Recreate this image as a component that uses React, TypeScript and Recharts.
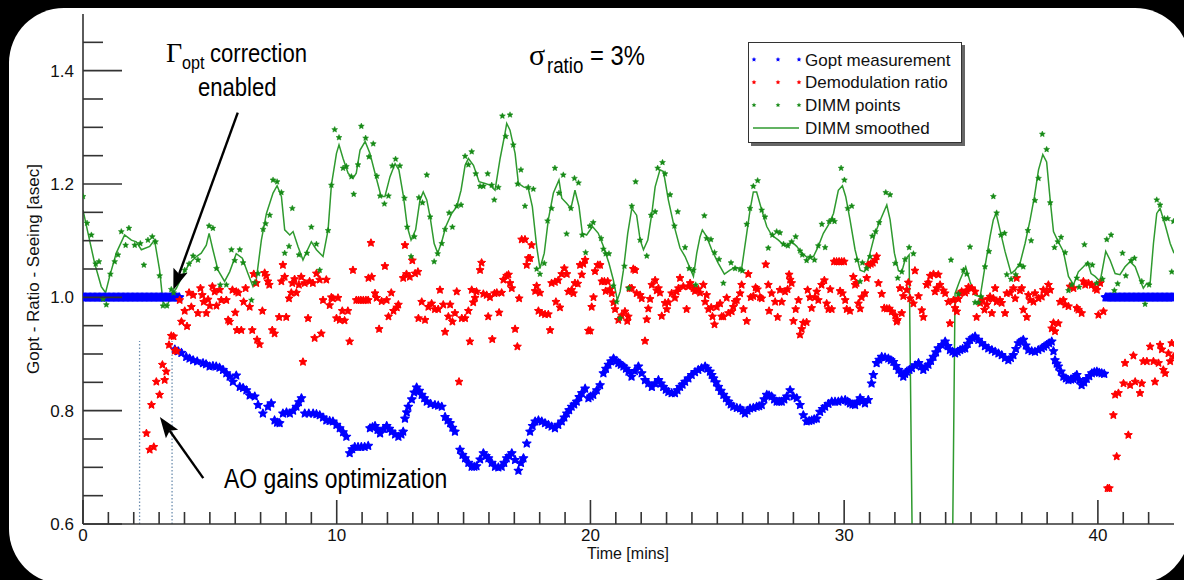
import React from 'react';
import { ComposedChart, Scatter, Line, XAxis, YAxis, ReferenceLine, Legend } from 'recharts';

// ---------- data (time in minutes, value) ----------
// Gopt held at 1.0 before the correction is enabled
const goptHoldStart: [number, number][] = [
  [0, 1], [0.05, 1], [0.1, 1], [0.15, 1], [0.2, 1], [0.25, 1], [0.3, 1], [0.35, 1], [0.4, 1], [0.45, 1],
  [0.5, 1], [0.55, 1], [0.6, 1], [0.65, 1], [0.7, 1], [0.75, 1], [0.8, 1], [0.85, 1], [0.9, 1], [0.95, 1],
  [1.0, 1], [1.05, 1], [1.1, 1], [1.15, 1], [1.2, 1], [1.25, 1], [1.3, 1], [1.35, 1], [1.4, 1], [1.45, 1],
  [1.5, 1], [1.55, 1], [1.6, 1], [1.65, 1], [1.7, 1], [1.75, 1], [1.8, 1], [1.85, 1], [1.9, 1], [1.95, 1],
  [2.0, 1], [2.05, 1], [2.1, 1], [2.15, 1], [2.2, 1], [2.25, 1], [2.3, 1], [2.35, 1], [2.4, 1], [2.45, 1],
  [2.5, 1], [2.55, 1], [2.6, 1], [2.65, 1], [2.7, 1], [2.75, 1], [2.8, 1], [2.85, 1], [2.9, 1], [2.95, 1],
  [3.0, 1], [3.05, 1], [3.1, 1], [3.15, 1], [3.2, 1], [3.25, 1], [3.3, 1], [3.35, 1], [3.4, 1], [3.45, 1],
  [3.5, 1], [3.55, 1], [3.6, 1], [3.65, 1], [3.7, 1], [3.75, 1], [3.8, 1],
];

const goptMeasured: [number, number][] = [
  [3.62, 0.908], [3.75, 0.905], [3.88, 0.902], [4.07, 0.895], [4.2, 0.892], [4.34, 0.889], [4.5, 0.887],
  [4.73, 0.884], [4.85, 0.882], [4.99, 0.878], [5.12, 0.879], [5.25, 0.878], [5.38, 0.876], [5.52, 0.872],
  [5.65, 0.866], [5.78, 0.86], [5.91, 0.851], [6.04, 0.862], [6.18, 0.842], [6.31, 0.84], [6.44, 0.836],
  [6.57, 0.827], [6.77, 0.825], [6.9, 0.81], [7.09, 0.795], [7.29, 0.807], [7.42, 0.813], [7.55, 0.783],
  [7.65, 0.779], [7.75, 0.778], [7.88, 0.795], [8.02, 0.797], [8.15, 0.795], [8.28, 0.8], [8.41, 0.807],
  [8.51, 0.815], [8.61, 0.822], [8.74, 0.795], [8.9, 0.795], [9.07, 0.795], [9.2, 0.794], [9.33, 0.792],
  [9.46, 0.788], [9.59, 0.783], [9.72, 0.782], [9.85, 0.781], [9.99, 0.775], [10.12, 0.769], [10.25, 0.762],
  [10.38, 0.754], [10.51, 0.725], [10.61, 0.732], [10.71, 0.736], [10.84, 0.736], [10.97, 0.736], [11.1, 0.736],
  [11.24, 0.738], [11.31, 0.769], [11.41, 0.771], [11.51, 0.773], [11.61, 0.766], [11.71, 0.76], [11.84, 0.768],
  [11.97, 0.773], [12.07, 0.768], [12.17, 0.763], [12.3, 0.758], [12.43, 0.754], [12.55, 0.758], [12.62, 0.763],
  [12.69, 0.786], [12.76, 0.797], [12.82, 0.807], [12.96, 0.82], [13.05, 0.832], [13.15, 0.841], [13.25, 0.835],
  [13.35, 0.828], [13.45, 0.822], [13.55, 0.816], [13.7, 0.812], [13.87, 0.81], [14.0, 0.809], [14.14, 0.807],
  [14.27, 0.789], [14.37, 0.783], [14.47, 0.778], [14.56, 0.77], [14.66, 0.763], [14.86, 0.731], [14.96, 0.722],
  [15.06, 0.716], [15.19, 0.708], [15.32, 0.701], [15.42, 0.701], [15.51, 0.702], [15.65, 0.714], [15.78, 0.725],
  [15.88, 0.72], [15.98, 0.716], [16.11, 0.708], [16.24, 0.701], [16.37, 0.7], [16.5, 0.701], [16.6, 0.708],
  [16.7, 0.716], [16.8, 0.72], [16.9, 0.725], [17.03, 0.713], [17.16, 0.694], [17.26, 0.708], [17.36, 0.716],
  [17.49, 0.742], [17.62, 0.763], [17.72, 0.773], [17.82, 0.781], [17.95, 0.783], [18.08, 0.781], [18.21, 0.778],
  [18.34, 0.775], [18.47, 0.772], [18.6, 0.769], [18.73, 0.775], [18.87, 0.781], [18.97, 0.788], [19.07, 0.795],
  [19.16, 0.801], [19.26, 0.807], [19.36, 0.811], [19.46, 0.816], [19.56, 0.824], [19.66, 0.831], [19.79, 0.839],
  [19.92, 0.822], [20.01, 0.825], [20.11, 0.828], [20.25, 0.836], [20.38, 0.845], [20.51, 0.866], [20.61, 0.874],
  [20.71, 0.881], [20.81, 0.887], [20.91, 0.892], [21.01, 0.888], [21.1, 0.884], [21.2, 0.881], [21.3, 0.878],
  [21.4, 0.874], [21.5, 0.869], [21.62, 0.86], [21.75, 0.87], [21.89, 0.878], [22.02, 0.866], [22.15, 0.854],
  [22.28, 0.848], [22.42, 0.842], [22.55, 0.848], [22.68, 0.854], [22.78, 0.848], [22.87, 0.842], [22.97, 0.837],
  [23.07, 0.833], [23.2, 0.831], [23.33, 0.831], [23.43, 0.836], [23.53, 0.842], [23.63, 0.846], [23.73, 0.851],
  [23.86, 0.857], [23.99, 0.863], [24.12, 0.868], [24.25, 0.872], [24.38, 0.875], [24.52, 0.878], [24.61, 0.874],
  [24.71, 0.869], [24.78, 0.863], [24.85, 0.857], [24.95, 0.85], [25.04, 0.842], [25.14, 0.835], [25.24, 0.828],
  [25.34, 0.822], [25.44, 0.816], [25.53, 0.811], [25.63, 0.807], [25.77, 0.805], [25.9, 0.804], [26.0, 0.8],
  [26.09, 0.795], [26.19, 0.8], [26.29, 0.804], [26.42, 0.805], [26.55, 0.807], [26.65, 0.808], [26.75, 0.81],
  [26.85, 0.82], [26.95, 0.828], [27.04, 0.827], [27.14, 0.825], [27.24, 0.82], [27.34, 0.816], [27.44, 0.816],
  [27.54, 0.816], [27.64, 0.82], [27.74, 0.825], [27.87, 0.836], [28.0, 0.825], [28.13, 0.822], [28.26, 0.81],
  [28.39, 0.792], [28.52, 0.781], [28.62, 0.782], [28.72, 0.783], [28.82, 0.785], [28.92, 0.786], [29.05, 0.798],
  [29.15, 0.803], [29.25, 0.807], [29.38, 0.812], [29.51, 0.816], [29.64, 0.816], [29.77, 0.816], [29.9, 0.818],
  [30.04, 0.819], [30.14, 0.816], [30.23, 0.813], [30.33, 0.811], [30.43, 0.81], [30.53, 0.816], [30.63, 0.822],
  [30.72, 0.817], [30.82, 0.813], [30.95, 0.819], [31.08, 0.848], [31.15, 0.863], [31.28, 0.884], [31.38, 0.89],
  [31.48, 0.895], [31.61, 0.894], [31.74, 0.892], [31.84, 0.889], [31.94, 0.886], [32.04, 0.879], [32.14, 0.872],
  [32.24, 0.866], [32.33, 0.86], [32.4, 0.865], [32.47, 0.869], [32.57, 0.872], [32.67, 0.875], [32.8, 0.88],
  [32.93, 0.884], [33.03, 0.878], [33.12, 0.872], [33.22, 0.877], [33.32, 0.881], [33.42, 0.888], [33.52, 0.895],
  [33.62, 0.903], [33.71, 0.91], [33.85, 0.916], [33.98, 0.922], [34.08, 0.914], [34.17, 0.907], [34.27, 0.904],
  [34.37, 0.901], [34.47, 0.904], [34.57, 0.907], [34.67, 0.909], [34.77, 0.91], [34.87, 0.918], [34.96, 0.925],
  [35.06, 0.928], [35.16, 0.931], [35.29, 0.925], [35.42, 0.919], [35.55, 0.914], [35.68, 0.91], [35.82, 0.907],
  [35.95, 0.904], [36.08, 0.901], [36.21, 0.898], [36.34, 0.893], [36.47, 0.889], [36.57, 0.893], [36.67, 0.898],
  [36.77, 0.909], [36.87, 0.919], [36.97, 0.922], [37.06, 0.925], [37.16, 0.915], [37.26, 0.907], [37.39, 0.905],
  [37.52, 0.904], [37.65, 0.907], [37.79, 0.91], [37.88, 0.913], [37.98, 0.916], [38.08, 0.919], [38.18, 0.922],
  [38.25, 0.905], [38.31, 0.889], [38.38, 0.883], [38.44, 0.878], [38.54, 0.869], [38.64, 0.86], [38.74, 0.857],
  [38.84, 0.854], [38.94, 0.855], [39.03, 0.856], [39.1, 0.86], [39.17, 0.863], [39.27, 0.854], [39.36, 0.845],
  [39.46, 0.85], [39.56, 0.856], [39.66, 0.861], [39.76, 0.866], [39.86, 0.868], [39.96, 0.869], [40.05, 0.867],
  [40.15, 0.866], [40.25, 0.865],
];

// Gopt reset to 1.0 at the end of the run
const goptHoldEnd: [number, number][] = [
  [40.3, 1], [40.35, 1], [40.4, 1], [40.45, 1], [40.5, 1], [40.55, 1], [40.6, 1], [40.65, 1], [40.7, 1], [40.75, 1],
  [40.8, 1], [40.85, 1], [40.9, 1], [40.95, 1], [41.0, 1], [41.05, 1], [41.1, 1], [41.15, 1], [41.2, 1], [41.25, 1],
  [41.3, 1], [41.35, 1], [41.4, 1], [41.45, 1], [41.5, 1], [41.55, 1], [41.6, 1], [41.65, 1], [41.7, 1], [41.75, 1],
  [41.8, 1], [41.85, 1], [41.9, 1], [41.95, 1], [42.0, 1], [42.05, 1], [42.1, 1], [42.15, 1], [42.2, 1], [42.25, 1],
  [42.3, 1], [42.35, 1], [42.4, 1], [42.45, 1], [42.5, 1], [42.55, 1], [42.6, 1], [42.65, 1], [42.7, 1], [42.75, 1],
  [42.8, 1], [42.85, 1], [42.9, 1], [42.95, 1], [43.0, 1],
];

const demodRatio: [number, number][] = [
  [2.5, 0.76], [2.63, 0.731], [2.79, 0.736], [2.7, 0.81], [2.89, 0.851], [3.02, 0.828], [3.13, 0.881], [3.22, 0.854],
  [3.28, 0.869], [3.39, 0.916], [3.48, 0.932], [3.57, 0.931], [3.62, 0.906], [3.7, 0.905],
  [3.81, 0.995], [3.88, 0.957], [4.01, 0.976], [4.1, 0.949], [4.18, 1.008], [4.27, 0.983], [4.34, 1.004], [4.53, 0.972],
  [4.63, 1.016], [4.7, 1.004], [4.76, 0.992], [4.86, 0.972], [4.93, 0.996], [5.0, 0.985], [5.1, 1.019], [5.19, 1.01],
  [5.26, 0.985], [5.39, 1.013], [5.45, 0.995], [5.65, 0.995], [5.72, 0.96], [5.78, 0.957], [5.89, 1.013], [6.0, 0.973],
  [6.04, 1.01], [6.07, 0.942], [6.12, 1.008], [6.24, 0.942], [6.33, 0.992], [6.41, 1.016], [6.57, 0.983], [6.67, 0.942],
  [6.73, 1.041], [6.83, 1.025], [6.86, 0.925], [6.96, 0.917], [7.07, 0.976], [7.16, 1.043], [7.22, 1.038], [7.29, 1.028],
  [7.34, 1.022], [7.46, 0.942], [7.55, 0.936], [7.73, 0.965], [7.82, 1.028], [7.88, 1.057], [7.95, 1.036], [8.01, 0.965],
  [8.12, 0.998], [8.21, 1.008], [8.25, 1.025], [8.34, 1.032], [8.41, 1.008], [8.51, 1.022], [8.6, 1.036], [8.67, 0.886],
  [8.74, 1.025], [8.87, 0.963], [8.93, 1.028], [9.06, 1.025], [9.13, 0.928], [9.2, 1.042], [9.33, 1.031], [9.39, 0.936],
  [9.46, 0.995], [9.59, 1.031], [9.72, 0.986], [9.79, 1.0], [9.85, 0.998], [9.99, 0.963], [10.05, 0.999], [10.12, 0.96],
  [10.22, 0.976], [10.31, 0.959], [10.44, 0.976], [10.51, 0.922], [10.64, 1.048], [10.77, 0.995], [10.86, 0.995],
  [10.95, 0.995], [11.05, 0.995], [11.15, 0.995], [11.24, 0.995], [11.25, 1.034], [11.35, 1.096], [11.38, 1.036],
  [11.51, 1.007], [11.57, 0.999], [11.67, 0.944], [11.77, 0.993], [11.9, 1.055], [11.97, 0.995], [12.04, 0.966],
  [12.15, 1.008], [12.24, 0.976], [12.37, 0.982], [12.43, 0.987], [12.62, 1.034], [12.69, 1.092], [12.75, 1.041],
  [12.88, 1.036], [12.98, 1.065], [13.09, 1.042], [13.2, 1.045], [13.22, 0.963], [13.35, 0.992], [13.48, 0.96],
  [13.61, 0.983], [13.74, 0.989], [13.87, 0.979], [14.0, 0.979], [14.07, 1.013], [14.2, 0.987], [14.27, 0.939],
  [14.4, 0.966], [14.47, 0.987], [14.56, 0.957], [14.66, 0.972], [14.73, 1.01], [14.82, 0.851], [14.93, 0.963],
  [15.06, 0.963], [15.19, 0.976], [15.25, 0.922], [15.32, 1.013], [15.38, 0.991], [15.45, 0.999], [15.51, 1.01],
  [15.65, 1.048], [15.71, 1.061], [15.78, 1.006], [15.91, 1.004], [15.97, 0.966], [16.04, 1.0], [16.13, 0.926],
  [16.22, 1.007], [16.31, 1.008], [16.4, 0.973], [16.5, 1.008], [16.57, 1.031], [16.7, 1.038], [16.77, 1.04],
  [16.83, 1.025], [16.9, 1.016], [17.03, 0.944], [17.12, 0.913], [17.19, 0.998], [17.29, 1.102], [17.42, 1.102],
  [17.49, 1.057], [17.55, 1.069], [17.62, 1.069], [17.68, 1.092], [17.82, 1.011], [17.88, 1.02], [17.95, 0.976],
  [18.01, 1.008], [18.08, 0.972], [18.21, 0.97], [18.34, 0.97], [18.41, 0.942], [18.47, 1.025], [18.6, 1.027],
  [18.64, 0.992], [18.73, 1.03], [18.8, 0.982], [18.87, 1.041], [18.97, 1.051], [19.07, 1.041], [19.13, 1.01],
  [19.26, 1.013], [19.33, 1.007], [19.39, 1.025], [19.5, 1.024], [19.59, 1.057], [19.66, 1.04], [19.72, 1.059],
  [19.79, 1.066], [19.92, 0.941], [19.99, 0.941], [20.05, 0.983], [20.12, 1.0], [20.18, 1.046], [20.29, 1.057],
  [20.38, 1.057], [20.45, 1.028], [20.55, 1.028], [20.6, 1.011], [20.68, 1.028], [20.77, 1.014], [20.84, 1.007],
  [20.91, 0.991], [20.97, 0.979], [21.1, 0.96], [21.23, 0.968], [21.36, 0.975], [21.45, 0.958], [21.49, 0.966],
  [21.55, 1.016], [21.63, 1.016], [21.69, 1.05], [21.76, 1.048], [21.82, 1.007], [21.96, 1.004], [22.02, 0.998],
  [22.15, 0.923], [22.22, 0.961], [22.28, 0.98], [22.35, 0.997], [22.42, 1.022], [22.55, 1.03], [22.61, 1.012],
  [22.68, 1.016], [22.74, 1.008], [22.81, 0.967], [22.94, 0.99], [23.01, 0.979], [23.07, 0.991], [23.2, 1.007],
  [23.33, 0.999], [23.4, 1.01], [23.47, 1.016], [23.53, 1.034], [23.66, 1.019], [23.79, 0.979], [23.86, 1.019],
  [23.93, 1.025], [24.06, 1.016], [24.12, 1.011], [24.25, 1.014], [24.32, 1.008], [24.45, 1.022], [24.52, 0.992],
  [24.58, 1.004], [24.65, 0.979], [24.76, 0.982], [24.81, 0.966], [24.89, 0.952], [24.98, 0.983], [25.11, 0.989],
  [25.17, 0.966], [25.24, 0.966], [25.37, 0.999], [25.44, 0.972], [25.57, 0.975], [25.63, 0.983], [25.7, 0.992],
  [25.77, 0.995], [25.9, 1.007], [25.96, 1.022], [26.03, 0.979], [26.16, 0.958], [26.22, 1.041], [26.32, 1.0],
  [26.42, 1.002], [26.51, 1.017], [26.58, 1.014], [26.68, 1.0], [26.75, 0.998], [26.91, 1.058], [27.01, 1.022],
  [27.04, 0.976], [27.14, 1.007], [27.28, 0.992], [27.38, 0.965], [27.47, 1.013], [27.54, 0.992], [27.67, 1.01],
  [27.77, 1.014], [27.83, 1.04], [27.87, 1.031], [27.93, 1.025], [28.0, 0.958], [28.09, 0.979], [28.2, 0.995],
  [28.26, 0.934], [28.33, 0.944], [28.39, 0.955], [28.52, 0.956], [28.56, 1.013], [28.65, 1.0], [28.72, 0.981],
  [28.85, 1.0], [28.92, 1.01], [28.98, 0.995], [29.11, 1.022], [29.22, 1.03], [29.31, 0.989], [29.38, 0.979],
  [29.45, 1.014], [29.51, 0.979], [29.6, 1.063], [29.7, 1.063], [29.8, 1.063], [29.9, 1.063], [30.0, 1.063],
  [29.84, 1.011], [29.93, 1.007], [30.04, 0.995], [30.1, 0.979], [30.23, 0.976], [30.36, 1.036], [30.43, 1.022],
  [30.49, 1.025], [30.56, 0.989], [30.63, 0.98], [30.69, 1.0], [30.82, 1.007], [30.89, 1.034], [30.95, 1.057],
  [31.05, 1.059], [31.13, 1.061], [31.22, 1.066], [31.28, 1.072], [31.35, 1.025], [31.48, 1.006], [31.58, 0.981],
  [31.68, 0.98], [31.78, 0.98], [31.88, 0.975], [32.01, 0.968], [32.07, 0.957], [32.1, 0.96], [32.2, 1.016],
  [32.27, 0.972], [32.33, 1.002], [32.47, 1.013], [32.53, 1.026], [32.6, 0.998], [32.73, 0.989], [32.79, 1.047],
  [32.93, 1.002], [33.06, 0.977], [33.12, 0.965], [33.25, 1.022], [33.32, 1.026], [33.39, 1.038], [33.52, 1.041],
  [33.58, 1.01], [33.65, 1.016], [33.71, 1.04], [33.78, 1.022], [33.91, 1.012], [33.98, 1.007], [34.11, 0.992],
  [34.17, 0.954], [34.31, 0.995], [34.37, 0.981], [34.44, 0.975], [34.5, 0.997], [34.57, 1.007], [34.63, 1.01],
  [34.77, 1.008], [34.83, 1.012], [34.9, 1.018], [35.03, 1.016], [35.16, 1.01], [35.22, 0.965], [35.36, 0.99],
  [35.45, 0.995], [35.53, 0.978], [35.62, 0.987], [35.69, 0.997], [35.75, 1.001], [35.82, 0.972], [35.88, 0.998],
  [35.95, 1.016], [36.01, 0.992], [36.14, 0.995], [36.21, 0.99], [36.34, 0.972], [36.41, 1.007], [36.54, 1.008],
  [36.67, 1.016], [36.74, 0.998], [36.8, 1.034], [36.93, 1.012], [37.0, 1.016], [37.06, 0.978], [37.2, 0.965],
  [37.26, 1.004], [37.33, 0.995], [37.46, 0.992], [37.52, 1.007], [37.66, 0.998], [37.79, 1.001], [37.85, 1.013],
  [37.98, 1.008], [38.05, 1.022], [38.12, 1.013], [38.18, 0.945], [38.25, 0.955], [38.31, 0.94], [38.44, 0.954],
  [38.51, 0.992], [38.64, 0.995], [38.71, 0.987], [38.84, 0.984], [38.9, 1.019], [39.04, 1.016], [39.17, 0.981],
  [39.23, 0.978], [39.36, 0.972], [39.43, 1.028], [39.5, 1.022], [39.63, 1.025], [39.76, 1.022], [39.89, 1.016],
  [39.96, 1.013], [40.02, 0.969], [40.09, 1.025], [40.22, 0.975],
  [40.38, 0.663], [40.45, 0.663], [40.61, 0.792], [40.68, 0.828], [40.74, 0.719], [40.81, 0.831], [41.01, 0.848],
  [41.07, 0.884], [41.2, 0.757], [41.27, 0.845], [41.4, 0.897], [41.47, 0.851], [41.66, 0.831], [41.73, 0.848],
  [41.79, 0.887], [41.93, 0.887], [42.06, 0.913], [42.19, 0.887], [42.25, 0.851], [42.39, 0.884], [42.45, 0.916],
  [42.52, 0.908], [42.58, 0.872], [42.65, 0.866], [42.78, 0.901], [42.85, 0.887], [42.91, 0.919], [42.98, 0.895],
];

const dimmPoints: [number, number][] = [
  [0, 1.178], [0.16, 1.131], [0.33, 1.11], [0.5, 1.059], [0.63, 1.063], [0.79, 0.997], [0.92, 0.987], [1.08, 1.041],
  [1.25, 1.063], [1.38, 1.075], [1.51, 1.116], [1.68, 1.092], [1.81, 1.122], [2.04, 1.092], [2.26, 1.095], [2.4, 1.057],
  [2.56, 1.101], [2.73, 1.107], [2.86, 1.098], [3.02, 1.038], [3.15, 0.985], [3.31, 0.985], [3.48, 1.014], [3.57, 1.008],
  [4.01, 1.048], [4.18, 1.059], [4.34, 1.073], [4.53, 1.066], [4.97, 1.126], [5.12, 1.122], [5.26, 1.051], [5.41, 1.022],
  [5.65, 1.022], [5.85, 1.084], [5.98, 1.065], [6.18, 1.084], [6.31, 1.061], [6.64, 0.995], [6.77, 1.026], [6.9, 1.042],
  [7.1, 1.12], [7.2, 1.13], [7.36, 1.145], [7.49, 1.207], [7.65, 1.204], [7.82, 1.185], [7.95, 1.078], [8.12, 1.09],
  [8.25, 1.157], [8.51, 1.075], [8.83, 1.078], [9.0, 1.124], [9.2, 1.094], [9.33, 1.048], [9.66, 1.118], [9.79, 1.198],
  [9.92, 1.296], [10.09, 1.282], [10.25, 1.228], [10.38, 1.231], [10.58, 1.213], [10.67, 1.182], [10.84, 1.234],
  [10.97, 1.302], [11.14, 1.281], [11.27, 1.248], [11.44, 1.271], [11.58, 1.214], [11.71, 1.179], [11.88, 1.165],
  [12.04, 1.179], [12.19, 1.232], [12.32, 1.244], [12.49, 1.232], [12.67, 1.175], [12.78, 1.124], [12.93, 1.072],
  [13.06, 1.107], [13.24, 1.176], [13.38, 1.167], [13.55, 1.216], [13.68, 1.142], [13.84, 1.063], [13.98, 1.077],
  [14.14, 1.095], [14.27, 1.12], [14.43, 1.149], [14.56, 1.124], [14.73, 1.161], [14.9, 1.163], [15.06, 1.249],
  [15.19, 1.234], [15.32, 1.257], [15.48, 1.218], [15.65, 1.196], [15.78, 1.196], [15.95, 1.218], [16.11, 1.198],
  [16.21, 1.172], [16.37, 1.194], [16.53, 1.32], [16.66, 1.284], [16.83, 1.322], [16.96, 1.269], [17.13, 1.2],
  [17.26, 1.225], [17.42, 1.161], [17.55, 1.194], [17.75, 1.191], [17.88, 1.05], [18.01, 1.041], [18.18, 1.06],
  [18.31, 1.135], [18.47, 1.157], [18.6, 1.228], [18.76, 1.184], [18.93, 1.216], [19.06, 1.112], [19.23, 1.157],
  [19.37, 1.21], [19.53, 1.202], [19.68, 1.11], [19.81, 1.079], [19.98, 1.126], [20.11, 1.132], [20.42, 1.104],
  [20.51, 1.085], [20.6, 1.077], [20.73, 1.077], [20.9, 1.02], [21.03, 0.992], [21.17, 0.963], [21.34, 1.055],
  [21.5, 1.016], [21.63, 1.161], [21.78, 1.204], [21.96, 1.101], [22.22, 1.073], [22.39, 1.145], [22.55, 1.151],
  [22.65, 1.228], [22.84, 1.238], [22.94, 1.218], [23.14, 1.181], [23.31, 1.126], [23.44, 1.151], [23.73, 1.088],
  [23.89, 1.051], [24.06, 1.048], [24.15, 1.022], [24.49, 1.144], [24.58, 1.104], [24.75, 1.102], [24.89, 1.079],
  [25.07, 1.067], [25.24, 1.025], [25.54, 1.061], [25.7, 1.051], [25.9, 1.049], [25.99, 1.047], [26.16, 1.129],
  [26.29, 1.157], [26.42, 1.196], [26.59, 1.206], [26.75, 1.154], [26.88, 1.142], [27.01, 1.087], [27.17, 1.11],
  [27.34, 1.116], [27.47, 1.114], [27.61, 1.094], [27.78, 1.091], [27.93, 1.098], [28.09, 1.107], [28.26, 1.082],
  [28.35, 1.075], [28.52, 1.065], [28.66, 1.071], [28.83, 1.066], [28.98, 1.091], [29.12, 1.129], [29.25, 1.088],
  [29.41, 1.134], [29.54, 1.137], [29.62, 1.134], [29.88, 1.228], [30.01, 1.207], [30.14, 1.157], [30.3, 1.161],
  [30.5, 1.066], [30.63, 1.028], [30.72, 1.061], [30.89, 1.051], [31.02, 1.072], [31.11, 1.108], [31.24, 1.116],
  [31.38, 1.132], [31.64, 1.185], [31.81, 1.181], [32.01, 1.06], [32.11, 1.034], [32.27, 1.045], [32.4, 1.067],
  [32.56, 1.088], [32.73, 1.077], [34.21, 1.066], [34.5, 1.006], [34.7, 1.048], [34.83, 1.041], [34.96, 1.089],
  [35.16, 0.991], [35.29, 0.991], [35.4, 1.001], [35.55, 1.054], [35.71, 1.081], [35.88, 1.178], [36.01, 1.149],
  [36.18, 1.11], [36.32, 1.113], [36.41, 1.04], [36.58, 1.032], [36.76, 1.04], [36.93, 1.057], [37.06, 1.054],
  [37.24, 1.118], [37.37, 1.1], [37.52, 1.171], [37.66, 1.21], [37.81, 1.288], [37.98, 1.261], [38.12, 1.167],
  [38.29, 1.088], [38.42, 1.098], [38.55, 1.106], [38.71, 1.079], [38.84, 1.012], [38.97, 1.022], [39.17, 1.034],
  [39.26, 1.018], [39.47, 1.093], [39.6, 1.059], [39.78, 1.057], [39.95, 1.025], [40.18, 1.032], [40.35, 1.102],
  [40.52, 1.11], [40.65, 1.012], [40.78, 1.024], [40.97, 1.078], [41.1, 1.038], [41.31, 1.065], [41.44, 1.069],
  [41.73, 1.028], [41.86, 0.988], [42.02, 1.022], [42.32, 1.172], [42.45, 1.163], [42.62, 1.139], [42.75, 1.139],
  [42.91, 1.045], [42.98, 1.134],
];

const dimmSmoothed: [number, number][] = [
  [0, 1.154], [0.2, 1.113], [0.46, 1.06], [0.72, 1.019], [0.89, 1.008], [1.05, 1.037], [1.31, 1.078], [1.64, 1.11],
  [1.91, 1.101], [2.1, 1.098], [2.3, 1.084], [2.63, 1.09], [2.82, 1.101], [3.02, 1.048], [3.15, 0.992], [3.31, 0.984],
  [3.48, 1.004], [3.68, 1.016], [3.94, 1.04], [4.2, 1.06], [4.47, 1.072], [4.66, 1.078], [4.86, 1.092], [4.97, 1.113],
  [5.12, 1.084], [5.32, 1.048], [5.58, 1.028], [5.78, 1.045], [6.04, 1.077], [6.28, 1.069], [6.5, 1.042], [6.7, 1.019],
  [6.83, 1.031], [7.03, 1.101], [7.23, 1.148], [7.49, 1.184], [7.65, 1.197], [7.82, 1.178], [7.95, 1.119], [8.15, 1.11],
  [8.28, 1.116], [8.47, 1.09], [8.67, 1.066], [8.8, 1.079], [9.0, 1.098], [9.2, 1.084], [9.46, 1.072], [9.66, 1.119],
  [9.79, 1.198], [9.99, 1.254], [10.09, 1.269], [10.25, 1.245], [10.45, 1.219], [10.64, 1.21], [10.77, 1.219],
  [10.92, 1.26], [11.12, 1.275], [11.31, 1.254], [11.51, 1.219], [11.75, 1.178], [11.9, 1.178], [12.1, 1.213],
  [12.3, 1.236], [12.45, 1.225], [12.63, 1.178], [12.78, 1.125], [12.93, 1.101], [13.11, 1.119], [13.28, 1.172],
  [13.41, 1.186], [13.55, 1.172], [13.68, 1.142], [13.84, 1.095], [13.98, 1.078], [14.14, 1.098], [14.3, 1.125],
  [14.53, 1.148], [14.73, 1.16], [14.9, 1.189], [15.06, 1.233], [15.19, 1.245], [15.39, 1.233], [15.61, 1.204],
  [15.85, 1.201], [16.04, 1.198], [16.24, 1.189], [16.44, 1.245], [16.63, 1.289], [16.7, 1.307], [16.83, 1.295],
  [17.03, 1.254], [17.16, 1.201], [17.36, 1.195], [17.55, 1.192], [17.71, 1.16], [17.88, 1.09], [18.01, 1.051],
  [18.18, 1.078], [18.34, 1.137], [18.54, 1.184], [18.76, 1.207], [18.87, 1.175], [19.06, 1.166], [19.23, 1.157],
  [19.39, 1.189], [19.55, 1.16], [19.68, 1.113], [19.85, 1.11], [20.08, 1.125], [20.31, 1.113], [20.51, 1.09],
  [20.73, 1.06], [20.9, 1.031], [21.06, 0.995], [21.17, 1.01], [21.3, 1.048], [21.47, 1.113], [21.63, 1.157],
  [21.82, 1.145], [21.96, 1.101], [22.09, 1.084], [22.26, 1.101], [22.42, 1.148], [22.55, 1.195], [22.74, 1.225],
  [22.88, 1.222], [23.07, 1.172], [23.27, 1.131], [23.53, 1.087], [23.73, 1.072], [23.93, 1.051], [24.06, 1.037],
  [24.19, 1.078], [24.32, 1.107], [24.41, 1.119], [24.58, 1.107], [24.78, 1.084], [25.04, 1.06], [25.28, 1.041],
  [25.5, 1.048], [25.7, 1.053], [25.96, 1.051], [26.16, 1.113], [26.29, 1.154], [26.42, 1.186], [26.55, 1.186],
  [26.75, 1.154], [26.95, 1.125], [27.14, 1.11], [27.41, 1.101], [27.67, 1.09], [27.93, 1.098], [28.13, 1.09],
  [28.33, 1.078], [28.59, 1.069], [28.79, 1.072], [28.98, 1.09], [29.18, 1.113], [29.38, 1.128], [29.58, 1.148],
  [29.77, 1.189], [29.93, 1.197], [30.06, 1.178], [30.23, 1.137], [30.43, 1.084], [30.63, 1.048], [30.8, 1.045],
  [31.02, 1.078], [31.22, 1.113], [31.46, 1.14], [31.68, 1.163], [31.81, 1.137], [31.98, 1.078], [32.14, 1.047],
  [32.27, 1.045], [32.4, 1.066], [32.56, 1.075], [32.82, 0], [34.15, 0], [34.37, 1.007], [34.57, 1.031],
  [34.79, 1.054], [34.96, 1.028], [35.16, 1.004], [35.36, 1.001], [35.55, 1.054], [35.75, 1.107], [35.88, 1.137],
  [35.99, 1.148], [36.14, 1.119], [36.34, 1.081], [36.58, 1.042], [36.74, 1.048], [36.93, 1.06], [37.13, 1.095],
  [37.33, 1.137], [37.5, 1.178], [37.66, 1.225], [37.83, 1.252], [37.98, 1.239], [38.12, 1.172], [38.25, 1.116],
  [38.44, 1.098], [38.64, 1.081], [38.84, 1.037], [39.04, 1.022], [39.23, 1.045], [39.43, 1.054], [39.6, 1.062],
  [39.73, 1.042], [39.89, 1.037], [40.09, 1.028], [40.31, 1.081], [40.48, 1.066], [40.68, 1.042], [40.87, 1.04],
  [41.07, 1.054], [41.27, 1.063], [41.47, 1.054], [41.66, 1.031], [41.79, 1.016], [41.93, 1.025], [42.06, 1.025],
  [42.19, 1.095], [42.32, 1.148], [42.45, 1.157], [42.65, 1.128], [42.85, 1.095], [43.0, 1.078],
];

// axis ticks
const xTicks = [0, 1, 2, 3, 4, 5, 6, 7, 8, 9, 10, 11, 12, 13, 14, 15, 16, 17, 18, 19, 20, 21, 22, 23, 24, 25, 26, 27, 28, 29, 30, 31, 32, 33, 34, 35, 36, 37, 38, 39, 40, 41, 42];
const xMajorLabels: Record<number, string> = { 0: '0', 10: '10', 20: '20', 30: '30', 40: '40' };
const yTicks = [0.6, 0.65, 0.7, 0.75, 0.8, 0.85, 0.9, 0.95, 1.0, 1.05, 1.1, 1.15, 1.2, 1.25, 1.3, 1.35, 1.4, 1.45];
const yMajorTicks = [0.6, 0.8, 1.0, 1.2, 1.4];
const yMajorLabels = ['0.6', '0.8', '1.0', '1.2', '1.4'];

// legend order
const legendOrder = ['Gopt measurement', 'Demodulation ratio', 'DIMM points', 'DIMM smoothed'];

// annotation anchors in data units: [time, value]
const gammaArrow = { tail: [6.1, 1.326], tip: [3.56, 1.013] };
const aoArrow = { tail: [4.74, 0.681], tip: [3.03, 0.789] };
const aoWindow = [2.23, 3.51];
const aoWindowTop = 0.923;

const toPoints = (arr: [number, number][]) => arr.map(([t, v]) => ({ t, v }));
const goptData = toPoints([...goptHoldStart, ...goptMeasured, ...goptHoldEnd]);
const ratioData = toPoints(demodRatio);
const dimmData = toPoints(dimmPoints);
const dimmLineData = toPoints(dimmSmoothed);

const BLUE = '#0000ff';
const RED = '#ff0000';
const GREEN_PTS = '#168a16';
const GREEN_LINE = '#2f9a2f';
const AXIS = '#333333';
const SANS = "'Liberation Sans', Arial, Helvetica, sans-serif";
const SERIF = "'Liberation Serif', 'Times New Roman', serif";
const NARROW_SCALE = 0.85;

function starPoints(cx: number, cy: number, R: number) {
  const r = R * 0.47;
  const pts: string[] = [];
  for (let i = 0; i < 10; i++) {
    const a = -Math.PI / 2 + (i * Math.PI) / 5;
    const rr = i % 2 === 0 ? R : r;
    pts.push(`${(cx + rr * Math.cos(a)).toFixed(2)},${(cy + rr * Math.sin(a)).toFixed(2)}`);
  }
  return pts.join(' ');
}

const makeStar = (color: string, R: number, sw: number) => (props: any) => {
  const { cx, cy } = props;
  if (cx == null || cy == null || isNaN(cx) || isNaN(cy)) return <g />;
  return <polygon points={starPoints(cx, cy, R)} fill={color} stroke={color} strokeWidth={sw} strokeLinejoin="round" />;
};

// condensed sans text (horizontal squeeze of the regular face)
const NarrowText = ({ x, y, size, children }: { x: number; y: number; size: number; children: React.ReactNode }) => (
  <text
    transform={`translate(${x} ${y}) scale(${NARROW_SCALE} 1)`}
    fontFamily={SANS}
    fontSize={size}
    fill="#000"
  >
    {children}
  </text>
);

const ArrowShape = (p: any) => {
  const { x1, y1, x2, y2 } = p;
  const dx = x2 - x1;
  const dy = y2 - y1;
  const len = Math.hypot(dx, dy) || 1;
  const ux = dx / len;
  const uy = dy / len;
  const hl = 21;
  const hw = 7.5;
  const bx = x2 - ux * hl;
  const by = y2 - uy * hl;
  const pts = `${x2},${y2} ${bx - uy * hw},${by + ux * hw} ${bx + ux * 4},${by + uy * 4} ${bx + uy * hw},${by - ux * hw}`;
  return (
    <g>
      <line x1={x1} y1={y1} x2={bx + ux * 4} y2={by + uy * 4} stroke="#000" strokeWidth={2.4} />
      <polygon points={pts} fill="#000" />
    </g>
  );
};

const DottedShape = (p: any) => (
  <line x1={p.x1} y1={p.y1} x2={p.x2} y2={p.y2} stroke="#6f8fb0" strokeWidth={1.3} strokeDasharray="1.5 2" />
);

const YTick = (props: any) => {
  const { x, y, payload } = props;
  const idx = yMajorTicks.findIndex((m) => Math.abs(m - payload.value) < 1e-6);
  const major = idx >= 0;
  return (
    <g>
      <line x1={x} y1={y} x2={x + (major ? 39 : 20)} y2={y} stroke={AXIS} strokeWidth={1.6} />
      {major && (
        <text x={x - 9} y={y} dy="0.36em" textAnchor="end" fontSize={17} fontFamily={SANS} fill="#111">
          {yMajorLabels[idx]}
        </text>
      )}
    </g>
  );
};

const XTick = (props: any) => {
  const { x, y, payload } = props;
  const label = xMajorLabels[payload.value];
  const major = label !== undefined;
  return (
    <g>
      <line x1={x} y1={y} x2={x} y2={y - (major ? 24 : 12)} stroke={AXIS} strokeWidth={1.6} />
      {major && (
        <text x={x} y={y + 17} textAnchor="middle" fontSize={17} fontFamily={SANS} fill="#111">
          {label}
        </text>
      )}
    </g>
  );
};

const LegendBox = (props: any) => {
  const payload: any[] = [...(props.payload || [])].sort(
    (a, b) => legendOrder.indexOf(a.value) - legendOrder.indexOf(b.value),
  );
  const rowH = 22.8;
  return (
    <div
      style={{
        width: 214,
        height: 101,
        background: '#fff',
        border: '1px solid #333',
        boxShadow: '3px 3px 0 #666',
        boxSizing: 'border-box',
      }}
    >
      <svg width={212} height={99} style={{ display: 'block' }}>
        {payload.map((entry, i) => {
          const cy = 16.5 + i * rowH;
          const color = entry.color;
          return (
            <g key={i}>
              {entry.type === 'line' ? (
                <line x1={4} y1={cy} x2={50} y2={cy} stroke={color} strokeWidth={1.5} />
              ) : (
                [4, 28, 49].map((sx) => <polygon key={sx} points={starPoints(sx + 1, cy, 2.5)} fill={color} />)
              )}
              <text x={56} y={cy} dy="0.36em" fontSize={17} fontFamily={SANS} fill="#111">
                {entry.value}
              </text>
            </g>
          );
        })}
      </svg>
    </div>
  );
};

export default function App() {
  return (
    <div style={{ position: 'fixed', left: 0, top: 0, width: 1184, height: 580, background: '#000', overflow: 'hidden' }}>
      <div
        style={{ position: 'absolute', left: 9, top: 8, width: 1181, height: 576, background: '#fff', borderRadius: 55 }}
      />
      <div style={{ position: 'absolute', left: 0, top: 0 }}>
        <ComposedChart width={1184} height={580} margin={{ top: 14, right: 10, bottom: 0, left: 0 }}>
          <XAxis
            type="number"
            dataKey="t"
            domain={[0, 43]}
            ticks={xTicks}
            interval={0}
            allowDataOverflow
            height={56}
            tickSize={0}
            tickMargin={0}
            tickLine={false}
            tick={XTick}
            axisLine={{ stroke: AXIS, strokeWidth: 1.6 }}
          />
          <YAxis
            type="number"
            dataKey="v"
            domain={[0.6, 1.5]}
            ticks={yTicks}
            interval={0}
            allowDataOverflow
            width={83}
            tickSize={0}
            tickMargin={0}
            tickLine={false}
            tick={YTick}
            axisLine={{ stroke: AXIS, strokeWidth: 1.6 }}
          />
          <Legend
            layout="horizontal"
            verticalAlign="middle"
            align="center"
            content={LegendBox}
            wrapperStyle={{ left: 748, top: 42, width: 216, height: 103 }}
          />
          <Scatter
            name="Gopt measurement"
            data={goptData}
            dataKey="v"
            fill={BLUE}
            legendType="star"
            shape={makeStar(BLUE, 4.4, 1.2)}
            isAnimationActive={false}
          />
          <Scatter
            name="Demodulation ratio"
            data={ratioData}
            dataKey="v"
            fill={RED}
            legendType="star"
            shape={makeStar(RED, 4.2, 1.0)}
            isAnimationActive={false}
          />
          <Scatter
            name="DIMM points"
            data={dimmData}
            dataKey="v"
            fill={GREEN_PTS}
            legendType="star"
            shape={makeStar(GREEN_PTS, 3.1, 0.5)}
            isAnimationActive={false}
          />
          <Line
            name="DIMM smoothed"
            data={dimmLineData}
            dataKey="v"
            type="linear"
            stroke={GREEN_LINE}
            strokeWidth={1.5}
            dot={false}
            activeDot={false}
            legendType="line"
            isAnimationActive={false}
          />
          {aoWindow.map((t) => (
            <ReferenceLine
              key={t}
              segment={[{ x: t, y: 0.6 }, { x: t, y: aoWindowTop }]}
              shape={DottedShape}
            />
          ))}
          <ReferenceLine
            segment={[
              { x: gammaArrow.tail[0], y: gammaArrow.tail[1] },
              { x: gammaArrow.tip[0], y: gammaArrow.tip[1] },
            ]}
            shape={ArrowShape}
          />
          <ReferenceLine
            segment={[
              { x: aoArrow.tail[0], y: aoArrow.tail[1] },
              { x: aoArrow.tip[0], y: aoArrow.tip[1] },
            ]}
            shape={ArrowShape}
          />
        </ComposedChart>
      </div>
      <svg
        width={1184}
        height={580}
        style={{ position: 'absolute', left: 0, top: 0, pointerEvents: 'none' }}
      >
        <text x={166} y={62} fontFamily={SERIF} fontSize={28} fill="#000">Γ</text>
        <NarrowText x={182} y={69} size={19}>opt</NarrowText>
        <NarrowText x={210} y={62} size={26}>correction</NarrowText>
        <NarrowText x={198} y={96} size={26}>enabled</NarrowText>

        <text x={529} y={65} fontFamily={SERIF} fontSize={30} fill="#000">σ</text>
        <NarrowText x={547} y={73} size={22}>ratio</NarrowText>
        <NarrowText x={590} y={65} size={28}>= 3%</NarrowText>

        <NarrowText x={224} y={488} size={27}>AO gains optimization</NarrowText>

        <text
          x={39}
          y={269}
          transform="rotate(-90 39 269)"
          textAnchor="middle"
          fontFamily={SANS}
          fontSize={17}
          fill="#111"
        >
          Gopt - Ratio - Seeing [asec]
        </text>
        <text x={628} y={559} textAnchor="middle" fontFamily={SANS} fontSize={16} fill="#111">
          Time [mins]
        </text>
      </svg>
    </div>
  );
}
